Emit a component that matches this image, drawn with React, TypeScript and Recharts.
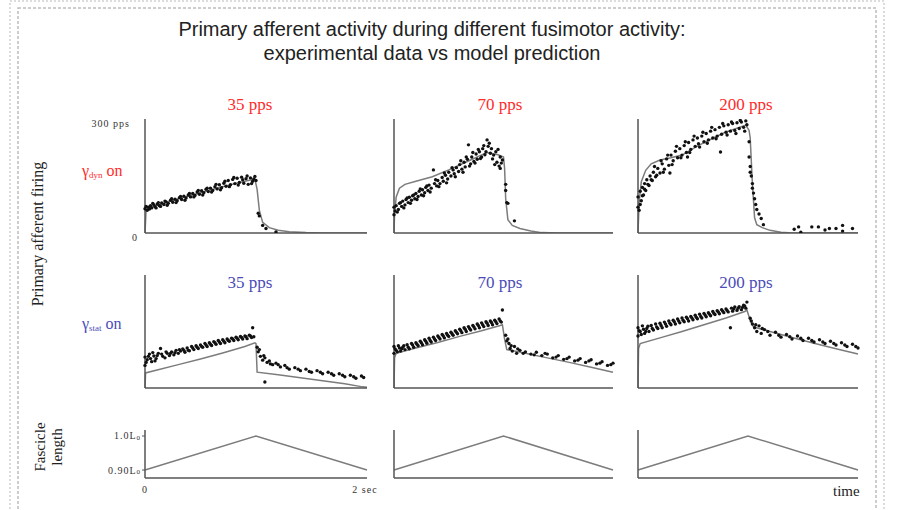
import React from "react";
import { ComposedChart, Line, Scatter, XAxis, YAxis } from "recharts";

// time in seconds, firing in pps
const dynModel35 = [[0,0],[0.01,62],[0.1,72],[0.3,90],[0.5,106],[0.7,122],[0.9,136],[0.99,142],[1.01,115],[1.03,60],[1.06,28],[1.12,14],[1.2,7],[1.3,3],[1.45,1],[1.6,0],[2,0]];
const dynData35 = [[0,64],[0.01,70],[0.02,60],[0.03,68],[0.04,63],[0.05,72],[0.06,66],[0.07,78],[0.08,74],[0.09,69],[0.1,66],[0.11,76],[0.12,80],[0.13,72],[0.14,70],[0.15,79],[0.17,75],[0.18,84],[0.19,82],[0.2,73],[0.21,78],[0.23,86],[0.24,90],[0.25,81],[0.27,89],[0.28,80],[0.29,85],[0.31,93],[0.32,96],[0.33,88],[0.35,97],[0.36,86],[0.37,92],[0.39,100],[0.4,104],[0.41,95],[0.43,104],[0.44,95],[0.45,99],[0.47,108],[0.48,112],[0.49,102],[0.51,111],[0.52,100],[0.53,106],[0.55,115],[0.56,118],[0.57,109],[0.59,118],[0.6,108],[0.61,112],[0.63,122],[0.64,128],[0.65,116],[0.67,127],[0.68,114],[0.69,119],[0.71,131],[0.72,136],[0.73,123],[0.75,138],[0.76,122],[0.77,127],[0.79,141],[0.8,146],[0.81,130],[0.83,144],[0.84,126],[0.85,133],[0.87,147],[0.88,140],[0.89,131],[0.91,143],[0.92,150],[0.93,128],[0.95,145],[0.96,130],[0.97,136],[0.98,142],[0.99,149],[1.0,138],[1.02,52],[1.03,45],[1.06,20],[1.09,12],[1.18,3]];

const dynModel70 = [[0,0],[0.005,50],[0.02,95],[0.05,118],[0.1,128],[0.2,136],[0.35,148],[0.5,166],[0.7,192],[0.85,212],[0.95,206],[1.0,200],[1.01,170],[1.02,90],[1.04,35],[1.08,20],[1.15,12],[1.25,5],[1.35,1],[1.5,0],[2,0]];
const dynData70 = [[0,68],[0,48],[0.01,58],[0.02,72],[0.03,55],[0.04,62],[0.05,78],[0.06,80],[0.07,70],[0.08,84],[0.09,66],[0.1,74],[0.11,88],[0.12,92],[0.13,80],[0.14,94],[0.15,78],[0.16,86],[0.17,98],[0.18,100],[0.19,90],[0.2,104],[0.21,88],[0.22,96],[0.23,110],[0.24,116],[0.25,100],[0.26,114],[0.27,98],[0.28,106],[0.29,120],[0.3,124],[0.31,112],[0.32,126],[0.33,108],[0.34,118],[0.36,166],[0.37,130],[0.38,140],[0.39,124],[0.4,138],[0.41,122],[0.42,130],[0.44,146],[0.45,136],[0.46,158],[0.47,152],[0.48,132],[0.49,142],[0.5,160],[0.52,150],[0.53,172],[0.54,166],[0.55,156],[0.56,148],[0.57,172],[0.59,162],[0.6,180],[0.61,190],[0.62,168],[0.63,160],[0.64,186],[0.65,174],[0.66,200],[0.67,194],[0.68,232],[0.69,176],[0.7,182],[0.71,200],[0.72,212],[0.73,188],[0.74,184],[0.75,208],[0.76,194],[0.77,220],[0.78,214],[0.79,196],[0.8,200],[0.81,222],[0.82,230],[0.83,206],[0.84,214],[0.85,245],[0.86,228],[0.87,236],[0.88,210],[0.89,222],[0.9,195],[0.91,205],[0.92,180],[0.93,214],[0.94,186],[0.95,220],[0.96,176],[0.97,200],[0.97,170],[0.98,184],[0.99,192],[1.02,128],[1.02,112],[1.03,80],[1.04,78],[1.1,32]];

const dynModel200 = [[0,0],[0.01,80],[0.03,135],[0.07,165],[0.12,182],[0.2,192],[0.3,198],[0.4,205],[0.5,222],[0.6,238],[0.7,252],[0.8,266],[0.9,276],[0.98,284],[1.01,270],[1.02,250],[1.04,130],[1.06,40],[1.08,22],[1.13,14],[1.2,7],[1.3,2],[1.4,0],[2,0]];
const dynData200 = [[0,68],[0,95],[0.01,60],[0.02,110],[0.02,75],[0.03,85],[0.04,120],[0.04,98],[0.05,100],[0.06,130],[0.06,115],[0.07,112],[0.08,140],[0.09,128],[0.1,125],[0.11,150],[0.12,140],[0.13,138],[0.14,160],[0.15,175],[0.16,148],[0.17,152],[0.18,170],[0.2,158],[0.21,190],[0.22,182],[0.23,160],[0.24,168],[0.26,195],[0.27,205],[0.28,178],[0.29,158],[0.3,205],[0.31,180],[0.32,190],[0.34,215],[0.35,228],[0.36,198],[0.38,222],[0.39,198],[0.4,205],[0.42,230],[0.43,240],[0.44,212],[0.45,200],[0.46,238],[0.47,212],[0.48,220],[0.5,245],[0.51,255],[0.52,228],[0.54,250],[0.55,235],[0.56,226],[0.58,255],[0.59,265],[0.6,240],[0.62,262],[0.63,236],[0.64,245],[0.66,268],[0.67,278],[0.68,250],[0.7,272],[0.71,248],[0.72,255],[0.74,278],[0.75,213],[0.76,260],[0.77,288],[0.78,282],[0.8,265],[0.81,258],[0.82,285],[0.84,268],[0.85,292],[0.86,288],[0.88,270],[0.89,262],[0.9,290],[0.92,275],[0.93,296],[0.94,292],[0.96,278],[0.97,268],[0.98,295],[0.99,285],[1.01,240],[1.01,200],[1.02,175],[1.02,160],[1.03,150],[1.04,130],[1.04,118],[1.05,105],[1.06,90],[1.07,75],[1.08,62],[1.1,50],[1.12,38],[1.14,22],[1.42,10],[1.46,16],[1.48,2],[1.58,16],[1.64,16],[1.7,8],[1.74,12],[1.8,12],[1.86,20],[1.86,5],[1.95,12]];

const statModel35 = [[0,0],[0.005,40],[0.1,47],[0.3,62],[0.5,77],[0.7,93],[0.9,110],[0.99,120],[1.0,118],[1.01,42],[1.2,35],[1.4,27],[1.6,19],[1.8,11],[1.96,3],[2,2]];
const statData35 = [[0,82],[0,60],[0.01,68],[0.02,75],[0.03,84],[0.04,90],[0.05,78],[0.06,70],[0.07,94],[0.08,85],[0.09,72],[0.1,78],[0.11,86],[0.12,92],[0.14,105],[0.15,90],[0.16,84],[0.18,80],[0.19,96],[0.2,92],[0.22,86],[0.23,92],[0.24,96],[0.26,88],[0.27,94],[0.28,100],[0.3,92],[0.31,102],[0.32,98],[0.34,104],[0.35,100],[0.36,95],[0.38,106],[0.39,100],[0.4,99],[0.42,110],[0.43,106],[0.44,102],[0.46,112],[0.47,108],[0.48,105],[0.5,114],[0.51,110],[0.52,108],[0.54,118],[0.55,114],[0.56,110],[0.58,120],[0.59,116],[0.6,113],[0.62,123],[0.63,120],[0.64,116],[0.66,126],[0.67,122],[0.68,118],[0.7,128],[0.71,124],[0.72,120],[0.74,130],[0.75,126],[0.76,124],[0.78,132],[0.79,130],[0.8,126],[0.82,135],[0.83,132],[0.84,128],[0.86,137],[0.87,134],[0.88,130],[0.9,138],[0.91,136],[0.92,131],[0.94,140],[0.95,138],[0.96,134],[0.97,160],[0.98,136],[1.01,108],[1.02,96],[1.03,102],[1.04,84],[1.06,74],[1.07,86],[1.08,16],[1.08,80],[1.1,68],[1.12,72],[1.13,64],[1.15,62],[1.18,66],[1.2,62],[1.22,56],[1.26,60],[1.28,54],[1.3,50],[1.35,54],[1.38,50],[1.4,46],[1.45,50],[1.48,44],[1.5,42],[1.55,46],[1.58,42],[1.6,38],[1.65,42],[1.68,38],[1.7,34],[1.75,38],[1.78,34],[1.8,30],[1.85,34],[1.88,30],[1.9,26],[1.95,32],[1.97,28]];

const statModel70 = [[0,0],[0.005,80],[0.02,92],[0.2,106],[0.4,121],[0.6,137],[0.8,152],[0.97,166],[0.99,168],[1.01,130],[1.03,102],[1.2,92],[1.4,80],[1.6,68],[1.8,55],[2.0,42]];
const statData70 = [[0,110],[0,92],[0.01,104],[0.02,100],[0.03,96],[0.04,112],[0.05,106],[0.06,98],[0.07,104],[0.08,108],[0.09,112],[0.1,102],[0.12,115],[0.13,108],[0.14,104],[0.16,118],[0.17,114],[0.18,108],[0.2,120],[0.21,116],[0.22,112],[0.24,124],[0.25,120],[0.26,115],[0.28,128],[0.29,124],[0.3,119],[0.32,132],[0.33,126],[0.34,122],[0.36,135],[0.37,130],[0.38,126],[0.4,138],[0.41,134],[0.42,130],[0.44,142],[0.45,138],[0.46,133],[0.48,145],[0.49,140],[0.5,137],[0.52,148],[0.53,144],[0.54,140],[0.56,152],[0.57,148],[0.58,144],[0.6,156],[0.61,152],[0.62,147],[0.64,160],[0.65,156],[0.66,150],[0.68,163],[0.69,158],[0.7,154],[0.72,166],[0.73,162],[0.74,157],[0.76,170],[0.77,166],[0.78,160],[0.8,173],[0.81,168],[0.82,163],[0.84,176],[0.85,172],[0.86,166],[0.88,178],[0.89,174],[0.9,168],[0.92,180],[0.93,176],[0.94,171],[0.96,183],[0.97,178],[0.98,175],[0.99,207],[1.02,140],[1.03,125],[1.04,130],[1.05,118],[1.06,105],[1.07,112],[1.08,98],[1.1,110],[1.12,92],[1.13,104],[1.15,100],[1.18,92],[1.2,96],[1.25,90],[1.28,88],[1.3,95],[1.35,86],[1.38,92],[1.4,90],[1.45,80],[1.48,82],[1.5,86],[1.55,76],[1.58,78],[1.6,82],[1.65,72],[1.68,74],[1.7,78],[1.75,68],[1.78,72],[1.8,75],[1.85,64],[1.88,66],[1.9,70],[1.95,60],[1.98,62],[2.0,66]];

const statModel200 = [[0,0],[0.005,105],[0.02,118],[0.2,133],[0.4,150],[0.6,168],[0.8,186],[0.97,203],[0.99,207],[1.02,180],[1.05,162],[1.2,150],[1.4,134],[1.6,119],[1.8,104],[2.0,90]];
const statData200 = [[0,160],[0,138],[0.01,152],[0.02,150],[0.03,142],[0.04,165],[0.05,156],[0.06,145],[0.07,150],[0.08,158],[0.09,164],[0.1,150],[0.12,166],[0.13,158],[0.14,154],[0.16,170],[0.17,162],[0.18,158],[0.2,172],[0.21,166],[0.22,160],[0.24,175],[0.25,170],[0.26,164],[0.28,178],[0.29,172],[0.3,168],[0.32,180],[0.33,176],[0.34,170],[0.36,183],[0.37,178],[0.38,173],[0.4,186],[0.41,180],[0.42,176],[0.44,188],[0.45,184],[0.46,178],[0.48,190],[0.49,186],[0.5,181],[0.52,193],[0.53,188],[0.54,184],[0.56,196],[0.57,190],[0.58,186],[0.6,198],[0.61,194],[0.62,189],[0.64,200],[0.65,196],[0.66,192],[0.68,203],[0.69,198],[0.7,195],[0.72,205],[0.73,202],[0.74,197],[0.76,208],[0.77,204],[0.78,200],[0.8,210],[0.81,206],[0.82,202],[0.84,160],[0.85,212],[0.86,204],[0.87,210],[0.88,215],[0.9,206],[0.91,212],[0.92,216],[0.94,208],[0.95,214],[0.96,220],[0.97,218],[0.98,212],[0.99,228],[1.02,185],[1.03,178],[1.04,170],[1.06,160],[1.07,168],[1.08,150],[1.1,165],[1.12,145],[1.13,158],[1.15,155],[1.18,150],[1.2,140],[1.25,148],[1.28,140],[1.3,135],[1.35,142],[1.38,136],[1.4,130],[1.45,138],[1.48,132],[1.5,126],[1.55,132],[1.58,126],[1.6,122],[1.65,128],[1.68,122],[1.7,118],[1.75,124],[1.78,118],[1.8,114],[1.85,120],[1.88,114],[1.9,110],[1.95,116],[1.98,110],[2.0,106]];

// fascicle length ramp, in units of L0
const lengthRamp = [[0,0.9],[1,1.0],[2,0.9]];

const rateLabels = ["35 pps", "70 pps", "200 pps"];
const rateTitleX = [250, 500, 746];
const colLeft = [145, 394, 638];
const colWidth = [222, 219, 220];

const toPts = (a: number[][]) => a.map(([t, v]) => ({ t, v }));

const ML = 70;
const MR = 26;
const MT = 6;
const serif = "'Liberation Serif', 'Times New Roman', serif";
const axisStyle = { stroke: "#555", strokeWidth: 1.5 };

function Panel({ left, top, w, h, domain, model, data, yTick, xTick, ticks }: any) {
  return (
    <div style={{ position: "absolute", left: left - ML, top: top - MT }}>
      <ComposedChart width={w + ML + MR} height={h + MT + 22} margin={{ top: MT, right: MR, left: 0, bottom: 0 }}>
        <XAxis
          type="number"
          dataKey="t"
          domain={[0, 2]}
          ticks={[0, 2]}
          height={22}
          axisLine={axisStyle}
          tickLine={false}
          tick={xTick ? (p: any) => xTick(p, h) : false}
        />
        <YAxis
          type="number"
          dataKey="v"
          domain={domain}
          ticks={ticks}
          width={ML}
          allowDataOverflow
          axisLine={axisStyle}
          tickLine={false}
          tick={yTick ? yTick : false}
        />
        <Line
          data={toPts(model)}
          dataKey="v"
          type="linear"
          stroke="#7c7c7c"
          strokeWidth={1.5}
          dot={false}
          isAnimationActive={false}
        />
        {data && (
          <Scatter
            data={toPts(data)}
            dataKey="v"
            isAnimationActive={false}
            shape={(p: any) => <circle cx={p.cx} cy={p.cy} r={1.7} fill="#111" />}
          />
        )}
      </ComposedChart>
    </div>
  );
}

const smallText = { fontFamily: serif, fontSize: 10, letterSpacing: 1, fill: "#333" };

const rateYTick = (p: any) => {
  const y = p.payload.coordinate;
  if (p.payload.value === 300)
    return <text x={ML - 15} y={y + 4} textAnchor="end" dominantBaseline="central" style={smallText}>300 pps</text>;
  return <text x={ML - 10} y={y + 4} textAnchor="middle" dominantBaseline="central" style={smallText}>0</text>;
};

const lengthYTick = (p: any) => {
  const y = p.payload.coordinate;
  const lab = p.payload.value === 1 ? "1.0L" : "0.90L";
  return (
    <g>
      <line x1={ML - 3} x2={ML} y1={y} y2={y} stroke="#555" strokeWidth={1} />
      <text x={ML - 4} y={y} textAnchor="end" dominantBaseline="central" style={smallText}>
        {lab}
        <tspan fontSize={7} dy={2}>0</tspan>
      </text>
    </g>
  );
};

const timeXTick = (p: any, h: number) => {
  const x = p.payload.coordinate;
  const lab = p.payload.value === 0 ? "0" : "2 sec";
  return (
    <text x={p.payload.value === 0 ? x : x - 2} y={MT + h + 11} textAnchor="middle" dominantBaseline="central" style={smallText}>
      {lab}
    </text>
  );
};

const dynModels = [dynModel35, dynModel70, dynModel200];
const dynData = [dynData35, dynData70, dynData200];
const statModels = [statModel35, statModel70, statModel200];
const statData = [statData35, statData70, statData200];

export default function App() {
  const abs = (s: any) => ({ position: "absolute" as const, ...s });
  return (
    <div style={{ position: "absolute", left: 0, top: 0, width: 898, height: 510, background: "#fff", overflow: "hidden" }}>
      <svg width={898} height={510} style={{ position: "absolute", left: 0, top: 0 }}>
        <rect x={10} y={1} width={874} height={560} fill="none" stroke="#dcdcdc" strokeWidth={2} strokeDasharray="2 2" />
        <rect x={18} y={8} width={858} height={560} fill="none" stroke="#bdbdbd" strokeWidth={1.5} strokeDasharray="3 2" />
      </svg>

      <div style={abs({ left: 0, width: 864, top: 17, textAlign: "center", fontFamily: "'Liberation Sans', Arial, sans-serif", fontSize: 20, lineHeight: "24px", color: "#222" })}>
        Primary afferent activity during different fusimotor activity:
        <br />
        experimental data vs model prediction
      </div>

      {rateLabels.map((r, i) => (
        <div key={"d" + r} style={abs({ left: rateTitleX[i] - 50, width: 100, top: 95, textAlign: "center", fontFamily: serif, fontSize: 17, color: "#ff2b2b" })}>{r}</div>
      ))}
      {rateLabels.map((r, i) => (
        <div key={"s" + r} style={abs({ left: rateTitleX[i] - 50, width: 100, top: 273, textAlign: "center", fontFamily: serif, fontSize: 17, color: "#4b4bb8" })}>{r}</div>
      ))}

      <div style={abs({ left: 82, top: 162, fontFamily: serif, fontSize: 16, color: "#ff2b2b", whiteSpace: "nowrap" })}>
        γ<span style={{ fontSize: 9, verticalAlign: "-2px" }}>dyn</span> on
      </div>
      <div style={abs({ left: 82, top: 315, fontFamily: serif, fontSize: 16, color: "#4b4bb8", whiteSpace: "nowrap" })}>
        γ<span style={{ fontSize: 9, verticalAlign: "-2px" }}>stat</span> on
      </div>

      <div style={abs({ left: 38, top: 234, transform: "translate(-50%, -50%) rotate(-90deg)", fontFamily: serif, fontSize: 16, color: "#222", whiteSpace: "nowrap" })}>
        Primary afferent firing
      </div>
      <div style={abs({ left: 40, top: 447, transform: "translate(-50%, -50%) rotate(-90deg)", fontFamily: serif, fontSize: 15, color: "#222", whiteSpace: "nowrap" })}>
        Fascicle
      </div>
      <div style={abs({ left: 57, top: 447, transform: "translate(-50%, -50%) rotate(-90deg)", fontFamily: serif, fontSize: 15, color: "#222", whiteSpace: "nowrap" })}>
        length
      </div>

      {colLeft.map((x, i) => (
        <Panel key={"r1" + i} left={x} top={119} w={colWidth[i]} h={114} domain={[0, 300]} ticks={[0, 300]}
          model={dynModels[i]} data={dynData[i]} yTick={i === 0 ? rateYTick : null} />
      ))}
      {colLeft.map((x, i) => (
        <Panel key={"r2" + i} left={x} top={275} w={colWidth[i]} h={113} domain={[0, 300]} ticks={[0, 300]}
          model={statModels[i]} data={statData[i]} />
      ))}
      {colLeft.map((x, i) => (
        <Panel key={"r3" + i} left={x} top={430} w={colWidth[i]} h={48} domain={[0.8765, 1.0176]} ticks={[0.9, 1]}
          model={lengthRamp} yTick={i === 0 ? lengthYTick : null} xTick={i === 0 ? timeXTick : null} />
      ))}

      <div style={abs({ left: 833, top: 483, fontFamily: serif, fontSize: 15, color: "#222" })}>time</div>
    </div>
  );
}
